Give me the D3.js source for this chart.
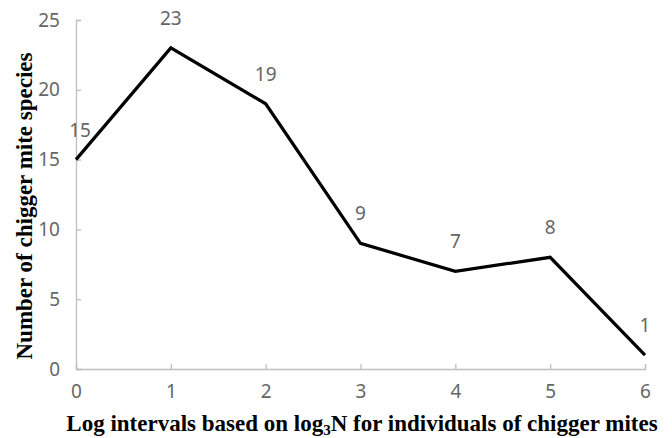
<!DOCTYPE html>
<html>
<head>
<meta charset="utf-8">
<script src="https://cdn.jsdelivr.net/npm/d3@7"></script>
<style>
	body { margin: 0; background: #fff; }
	.tick text { font-family: "Noto Sans", sans-serif; font-size: 19px; fill: #666; }
	.axis path, .axis line { stroke: #bfbfbf; stroke-width: 1.3; }
</style>
</head>
<body>
<svg width="672" height="438" id="chart"></svg>
<script>
	// data
	var intervals = [0, 1, 2, 3, 4, 5, 6];
	var species = [15, 23, 19, 9, 7, 8, 1];
	var yTicks = [0, 5, 10, 15, 20, 25];

	var svg = d3.select("svg#chart"),
		margin = { top: 20, right: 27, bottom: 69, left: 76 },
		width = +svg.attr("width") - margin.left - margin.right,
		height = +svg.attr("height") - margin.top - margin.bottom,
		g = svg.append("g").attr("transform", "translate(" + margin.left + "," + margin.top + ")");

	var x = d3.scaleLinear().domain([0, 6]).range([0, width]);
	var y = d3.scaleLinear().domain([0, 25]).range([height, 0]);

	// x axis
	g.append("g")
		.attr("class", "axis")
		.attr("transform", "translate(0," + height + ")")
		.call(d3.axisBottom(x).tickValues(intervals).tickSize(-5).tickPadding(16).tickFormat(d3.format("d")));

	// y axis
	g.append("g")
		.attr("class", "axis")
		.call(d3.axisLeft(y).tickValues(yTicks).tickSize(-5).tickPadding(16));

	var pts = intervals.map(function(d, i) { return [d, species[i]]; });

	g.append("path")
		.datum(pts)
		.attr("fill", "none")
		.attr("stroke", "#000")
		.attr("stroke-width", 3.2)
		.attr("d", d3.line()
			.x(function(d) { return x(d[0]); })
			.y(function(d) { return y(d[1]); }));

	// data labels
	g.selectAll(".lbl")
		.data(pts)
		.enter().append("text")
		.attr("class", "lbl")
		.attr("x", function(d) { return Math.max(x(d[0]), 4); })
		.attr("y", function(d) { return y(d[1]) - 23; })
		.attr("text-anchor", "middle")
		.style("font-family", "Noto Sans, sans-serif")
		.style("font-size", "19px")
		.style("fill", "#666")
		.text(function(d) { return d[1]; });

	// axis titles
	var xt = svg.append("text")
		.attr("x", 362)
		.attr("y", 431)
		.attr("text-anchor", "middle")
		.style("font-family", "Liberation Serif, serif")
		.style("font-weight", "bold")
		.style("font-size", "23px")
		.style("fill", "#000");
	xt.append("tspan").text("Log intervals based on log");
	xt.append("tspan").attr("dy", 4).style("font-size", "15px").text("3");
	xt.append("tspan").attr("dy", -4).text("N for individuals of chigger mites");

	svg.append("text")
		.attr("transform", "translate(32,206) rotate(-90)")
		.attr("text-anchor", "middle")
		.style("font-family", "Liberation Serif, serif")
		.style("font-weight", "bold")
		.style("font-size", "23px")
		.style("fill", "#000")
		.text("Number of chigger mite species");
</script>
</body>
</html>
